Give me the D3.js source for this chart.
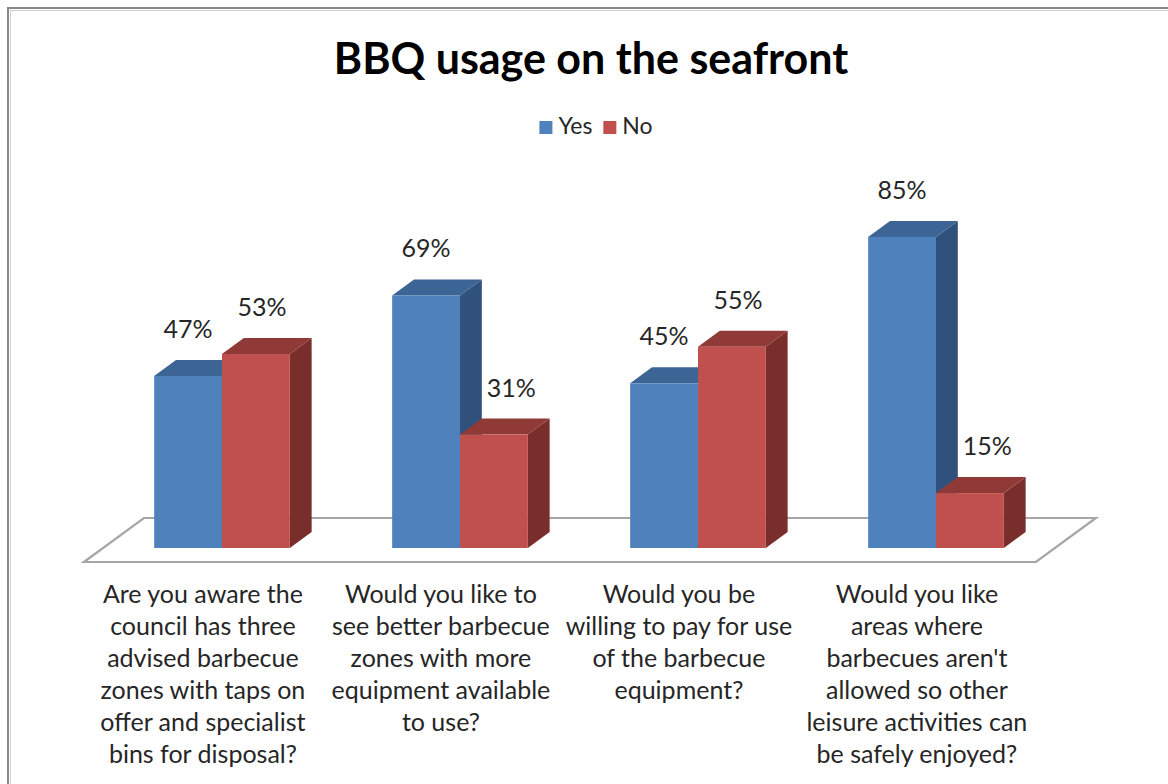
<!DOCTYPE html>
<html><head><meta charset="utf-8">
<script src="https://cdn.jsdelivr.net/npm/d3@7"></script>
<style>body{margin:0;background:#fff} svg{display:block}</style>
</head><body><svg id="c" width="1168" height="784"></svg>
<script>
const title = "BBQ usage on the seafront";
const categoryIds = ["q1","q2","q3","q4"];
const categoryLabels = [
  ["Are you aware the","council has three","advised barbecue","zones with taps on","offer and specialist","bins for disposal?"],
  ["Would you like to","see better barbecue","zones with more","equipment available","to use?"],
  ["Would you be","willing to pay for use","of the barbecue","equipment?"],
  ["Would you like","areas where","barbecues aren't","allowed so other","leisure activities can","be safely enjoyed?"]
];
const seriesNames = ["Yes","No"];
const yesValues = [0.47, 0.69, 0.45, 0.85];
const noValues  = [0.53, 0.31, 0.55, 0.15];

const svg = d3.select("#c");
const FONT = "Lato, 'Open Sans', sans-serif";

// frame
svg.append("rect").attr("x",8).attr("y",8).attr("width",1300).attr("height",900)
  .attr("fill","#fff").attr("stroke","#888").attr("stroke-width",2);
svg.append("path").attr("d","M10,10.5H1168M10.5,10V784").attr("stroke","#d0d0d0").attr("stroke-width",1).attr("fill","none");

// scales
const baseY = 548;
const x = d3.scaleBand().domain(categoryIds).range([103,1055]).paddingInner(0.43).paddingOuter(0.215);
const xs = d3.scaleBand().domain(seriesNames).range([0, x.bandwidth()]);
const y = d3.scaleLinear().domain([0,1]).range([baseY, baseY-366]);

// depth projection
const DX = 60, DY = -44, t0 = 14/44, t1 = 30/44;
const P = (px, py, t) => [px + (t - t0)*DX, py + (t - t0)*DY];
const barDX = (t1 - t0)*DX;

// floor
const [r0, r1] = x.range();
const floorPts = [P(r0,baseY,0), P(r0,baseY,1), P(r1,baseY,1), P(r1,baseY,0)];
svg.append("polygon").attr("points", floorPts.map(p=>p.join(",")).join(" "))
  .attr("fill","#fff").attr("stroke","#a6a6a6").attr("stroke-width",2.2).attr("stroke-linejoin","miter");

const colors = {
  Yes: {front:"#4F81BD", top:"#3C6494", side:"#30517C"},
  No:  {front:"#C0504D", top:"#8F3A37", side:"#7A2E2C"}
};
const labelShift = {Yes: 0, No: 6};

const data = [];
categoryIds.forEach((c,i)=>{
  data.push({cat:c, i, s:"Yes", v:yesValues[i]});
  data.push({cat:c, i, s:"No", v:noValues[i]});
});

const bars = svg.append("g");
const poly = pts => pts.map(p=>p.join(",")).join(" ");
data.forEach(d=>{
  const xl = x(d.cat) + xs(d.s), xr = xl + xs.bandwidth();
  const yt = y(d.v), yb = y(0);
  const dd = t1;
  const g = bars.append("g");
  const c = colors[d.s];
  g.append("polygon").attr("points", poly([[xr,yt],P(xr,yt,dd),P(xr,yb,dd),[xr,yb]])).attr("fill",c.side);
  g.append("polygon").attr("points", poly([[xl,yt],P(xl,yt,dd),P(xr,yt,dd),[xr,yt]])).attr("fill",c.top);
  g.append("rect").attr("x",xl).attr("y",yt).attr("width",xr-xl).attr("height",yb-yt).attr("fill",c.front);
});

// data labels (No labels pushed clear of a taller Yes bar's side face)
svg.append("g").selectAll("text").data(data).join("text")
  .attr("y", d=> y(d.v) - 38)
  .attr("text-anchor","middle").attr("font-family",FONT).attr("font-size",25)
  .attr("fill","#262626").text(d=>Math.round(d.v*100)+"%")
  .attr("x", function(d){
    let cx = x(d.cat)+xs(d.s)+xs.bandwidth()/2 + labelShift[d.s];
    if (d.s === "No" && yesValues[d.i] > d.v) {
      const sideRight = x(d.cat) + xs("No") + barDX;
      const half = this.getComputedTextLength()/2;
      cx = Math.max(cx, sideRight + half + 5);
    }
    return cx;
  });

// category labels
const lab = svg.append("g");
categoryIds.forEach((c,i)=>{
  const cx = P(x(c)+x.bandwidth()/2, baseY, 0)[0];
  const t = lab.append("text").attr("text-anchor","middle").attr("font-family",FONT)
    .attr("font-size",25).attr("fill","#262626");
  categoryLabels[i].forEach((line,j)=>{
    t.append("tspan").attr("x",cx).attr("y",603 + j*32).text(line);
  });
});

// title
svg.append("text").attr("x",591).attr("y",74).attr("text-anchor","middle")
  .attr("font-family",FONT).attr("font-weight","bold").attr("font-size",43).attr("fill","#000").text(title);

// legend
const leg = svg.append("g");
let lx = 0;
seriesNames.forEach(s=>{
  const g = leg.append("g").attr("transform",`translate(${lx},0)`);
  g.append("rect").attr("x",0).attr("y",-13).attr("width",13).attr("height",13).attr("fill",colors[s].front);
  const t = g.append("text").attr("x",19).attr("y",0).attr("font-family",FONT).attr("font-size",23).attr("fill","#262626").text(s);
  lx += 19 + t.node().getComputedTextLength() + 11;
});
const lw = lx - 11;
leg.attr("transform",`translate(${596 - lw/2},134)`);
</script></body></html>
